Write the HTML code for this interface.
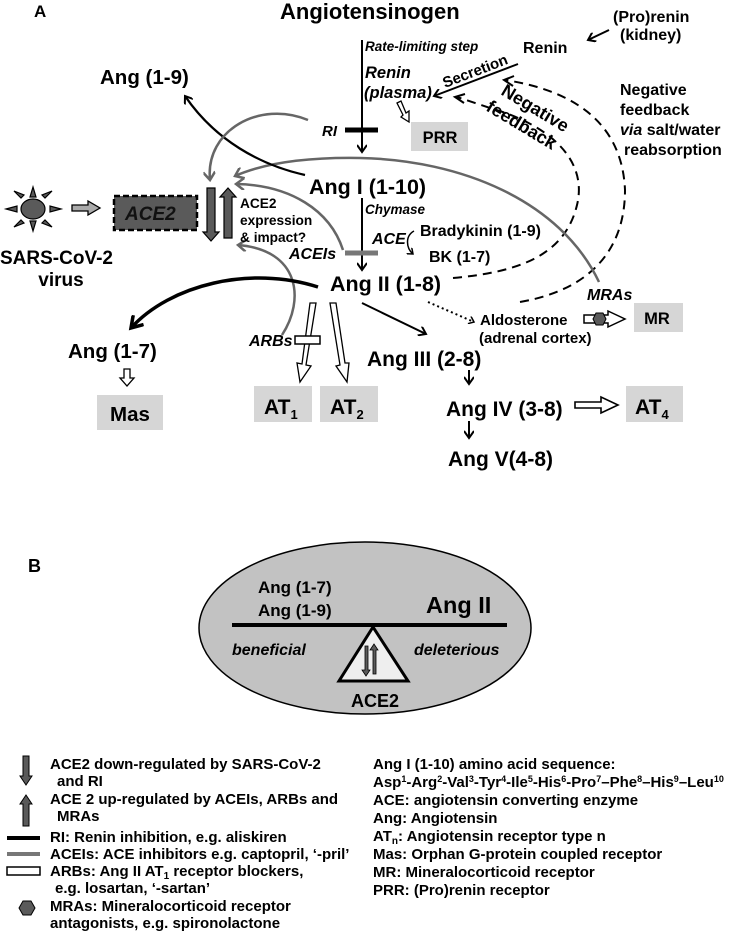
<!DOCTYPE html>
<html><head><meta charset="utf-8"><style>
html,body{margin:0;padding:0;background:#fff}
svg{display:block;font-family:"Liberation Sans",Arial,sans-serif;font-weight:bold}
</style></head><body>
<svg width="732" height="937" viewBox="0 0 732 937" xmlns="http://www.w3.org/2000/svg">
<defs>
<marker id="ah" markerWidth="10" markerHeight="10" refX="8" refY="5" orient="auto" markerUnits="userSpaceOnUse"><path d="M1,0 L8,5 L1,10" fill="none" stroke="#000" stroke-width="2"/></marker>
<marker id="ahg" markerWidth="12" markerHeight="12" refX="9" refY="6" orient="auto" markerUnits="userSpaceOnUse"><path d="M1,0 L9,6 L1,12" fill="none" stroke="#666" stroke-width="2.5"/></marker>
<marker id="ahb" markerWidth="16" markerHeight="16" refX="12" refY="8" orient="auto" markerUnits="userSpaceOnUse"><path d="M1,1 L12,8 L1,15" fill="none" stroke="#000" stroke-width="3.5"/></marker>
<marker id="ahs" markerWidth="8" markerHeight="8" refX="6" refY="4" orient="auto" markerUnits="userSpaceOnUse"><path d="M1,0 L6,4 L1,8" fill="none" stroke="#000" stroke-width="1.5"/></marker>
</defs>

<text x="34" y="17" font-size="17">A</text>
<text x="280" y="19" font-size="22">Angiotensinogen</text>
<text x="613" y="22" font-size="16">(Pro)renin</text>
<text x="620" y="40" font-size="16">(kidney)</text>
<line x1="609" y1="30" x2="588" y2="40" stroke="#000" stroke-width="2" marker-end="url(#ah)"/>
<text x="523" y="53" font-size="16">Renin</text>

<line x1="362" y1="40" x2="362" y2="152" stroke="#000" stroke-width="2" marker-end="url(#ah)"/>
<line x1="345" y1="130" x2="378" y2="130" stroke="#000" stroke-width="5"/>
<text x="322" y="136" font-size="15" font-style="italic">RI</text>
<text x="365" y="51" font-size="13.5" font-style="italic">Rate-limiting step</text>
<text x="365" y="78" font-size="16.5" font-style="italic">Renin</text>
<text x="364" y="98" font-size="16.5" font-style="italic">(plasma)</text>

<line x1="518" y1="64" x2="434" y2="96" stroke="#000" stroke-width="2" marker-end="url(#ah)"/>
<text font-size="15" transform="translate(445,88) rotate(-21)">Secretion</text>

<polygon points="397,103 401,101 406,113 409,111 409,122 401,117 403,115" fill="#fff" stroke="#000" stroke-width="1.3"/>
<rect x="411" y="122" width="57" height="29" fill="#d6d6d6"/>
<text x="440" y="143" font-size="16.5" text-anchor="middle">PRR</text>

<text font-size="18" transform="translate(500,94) rotate(31)">Negative</text>
<text font-size="18" transform="translate(485,110) rotate(31)">feedback</text>

<text x="620" y="95" font-size="16">Negative</text>
<text x="620" y="115" font-size="16">feedback</text>
<text x="620" y="135" font-size="16"><tspan font-style="italic">via</tspan> salt/water</text>
<text x="624" y="155" font-size="16">reabsorption</text>

<path d="M453,278 C520,272 565,255 577,205 C588,160 550,125 490,108 L457,97" fill="none" stroke="#000" stroke-width="2" stroke-dasharray="9,6"/>
<path d="M465,94 L455,97 L464,103" fill="none" stroke="#000" stroke-width="2"/>
<path d="M520,302 C590,290 625,250 625,190 C622,120 570,90 505,80" fill="none" stroke="#000" stroke-width="2" stroke-dasharray="9,6"/>
<path d="M514,76 L504,80 L513,86" fill="none" stroke="#000" stroke-width="2"/>

<path d="M599,282 C560,200 460,160 360,158 C300,157 260,165 235,176" fill="none" stroke="#666" stroke-width="2.5" marker-end="url(#ahg)"/>

<text x="309" y="194" font-size="21.5">Ang I (1-10)</text>
<line x1="362" y1="198" x2="362" y2="270" stroke="#000" stroke-width="2" marker-end="url(#ah)"/>
<text x="365" y="214" font-size="13.5" font-style="italic">Chymase</text>
<line x1="345" y1="253" x2="378" y2="253" stroke="#777" stroke-width="5"/>
<text x="289" y="259" font-size="16" font-style="italic">ACEIs</text>
<text x="372" y="244" font-size="16" font-style="italic">ACE</text>
<path d="M414,231 C405,236 406,248 413,254" fill="none" stroke="#000" stroke-width="1.5" marker-end="url(#ahs)"/>
<text x="420" y="236" font-size="16">Bradykinin (1-9)</text>
<text x="429" y="262" font-size="16">BK (1-7)</text>

<text x="330" y="291" font-size="21.5">Ang II (1-8)</text>

<text x="100" y="84" font-size="20.5">Ang (1-9)</text>
<path d="M305,175 C260,165 215,140 185,96" fill="none" stroke="#000" stroke-width="2.3" marker-end="url(#ah)"/>

<path d="M308,120 C260,100 205,130 210,180" fill="none" stroke="#666" stroke-width="2.5" marker-end="url(#ahg)"/>
<path d="M343,250 C330,210 290,185 236,184" fill="none" stroke="#666" stroke-width="2.5" marker-end="url(#ahg)"/>
<path d="M282,335 C305,300 300,250 238,245" fill="none" stroke="#666" stroke-width="2.5" marker-end="url(#ahg)"/>

<rect x="114" y="196" width="83" height="34" fill="#5a5a5a" stroke="#000" stroke-width="2.5" stroke-dasharray="6,3"/>
<text x="125" y="220" font-size="19" font-style="italic" fill="#111">ACE2</text>
<polygon points="207,188 215,188 215,232 219,232 211,241 203,232 207,232" fill="#5a5a5a" stroke="#000" stroke-width="1.2"/>
<polygon points="224,238 232,238 232,197 236,197 228,188 220,197 224,197" fill="#5a5a5a" stroke="#000" stroke-width="1.2"/>
<text x="240" y="208" font-size="13.7">ACE2</text>
<text x="240" y="225" font-size="13.7">expression</text>
<text x="240" y="242" font-size="13.7">&amp; impact?</text>

<g fill="#5a5a5a" stroke="#000" stroke-width="1.2">
<polygon points="33,187 30,197 36,197"/>
<polygon points="33,231 30,221 36,221"/>
<polygon points="6,209 17,206 17,212"/>
<polygon points="61,209 50,206 50,212"/>
<polygon points="14,191 21,198 24,195"/>
<polygon points="52,191 45,198 42,195"/>
<polygon points="14,227 21,220 24,223"/>
<polygon points="52,227 45,220 42,223"/>
<ellipse cx="33" cy="209" rx="12" ry="10"/>
</g>
<polygon points="72,205 88,205 88,201 100,208 88,215 88,211 72,211" fill="#aaa" stroke="#000" stroke-width="1.3"/>
<text x="0" y="264" font-size="19">SARS-CoV-2</text>
<text x="61" y="286" font-size="19" text-anchor="middle">virus</text>

<path d="M318,287 C250,265 170,285 131,328" fill="none" stroke="#000" stroke-width="3.5" marker-end="url(#ahb)"/>
<text x="68" y="358" font-size="20.5">Ang (1-7)</text>
<polygon points="124,369 130,369 130,378 134,378 127,386 120,378 124,378" fill="#fff" stroke="#000" stroke-width="1.3"/>
<rect x="97" y="395" width="66" height="35" fill="#d6d6d6"/>
<text x="130" y="421" font-size="20.5" text-anchor="middle">Mas</text>

<polygon points="310,303 316,303 306,365 311,366 300,382 297,363 302,364" fill="#fff" stroke="#000" stroke-width="1.3"/>
<polygon points="330,303 336,303 345,363 349,363 347,382 336,366 340,365" fill="#fff" stroke="#000" stroke-width="1.3"/>
<rect x="295" y="336" width="25" height="8" fill="#fff" stroke="#000" stroke-width="1.5"/>
<text x="249" y="346" font-size="16" font-style="italic">ARBs</text>
<rect x="254" y="386" width="58" height="36" fill="#d6d6d6"/>
<text x="264" y="414" font-size="21">AT<tspan font-size="13" dy="5">1</tspan></text>
<rect x="320" y="386" width="58" height="36" fill="#d6d6d6"/>
<text x="330" y="414" font-size="21">AT<tspan font-size="13" dy="5">2</tspan></text>

<line x1="362" y1="303" x2="426" y2="334" stroke="#000" stroke-width="2" marker-end="url(#ah)"/>
<line x1="428" y1="302" x2="474" y2="322" stroke="#000" stroke-width="2" stroke-dasharray="2,3" marker-end="url(#ahs)"/>
<text x="480" y="325" font-size="15">Aldosterone</text>
<text x="479" y="343" font-size="15">(adrenal cortex)</text>
<text x="587" y="300" font-size="16" font-style="italic">MRAs</text>
<polygon points="584,315 608,315 608,311 625,319 608,327 608,323 584,323" fill="#fff" stroke="#000" stroke-width="1.5"/>
<polygon points="596,313 603,313 606,319 603,325 596,325 593,319" fill="#5a5a5a" stroke="#000" stroke-width="1"/>
<rect x="634" y="303" width="49" height="29" fill="#d6d6d6"/>
<text x="657" y="324" font-size="16.5" text-anchor="middle">MR</text>

<text x="367" y="366" font-size="21">Ang III (2-8)</text>
<line x1="469" y1="370" x2="469" y2="384" stroke="#000" stroke-width="2" marker-end="url(#ah)"/>
<text x="446" y="416" font-size="21">Ang IV (3-8)</text>
<polygon points="575,402 601,402 601,397 618,405 601,413 601,408 575,408" fill="#fff" stroke="#000" stroke-width="1.6"/>
<rect x="626" y="386" width="57" height="36" fill="#d6d6d6"/>
<text x="635" y="414" font-size="21">AT<tspan font-size="13" dy="5">4</tspan></text>
<line x1="469" y1="421" x2="469" y2="438" stroke="#000" stroke-width="2" marker-end="url(#ah)"/>
<text x="448" y="466" font-size="21">Ang V(4-8)</text>

<!-- Panel B -->
<text x="28" y="572" font-size="18">B</text>
<ellipse cx="365" cy="628" rx="166" ry="86" fill="#c2c2c2" stroke="#000" stroke-width="1.5"/>
<line x1="232" y1="625" x2="507" y2="625" stroke="#000" stroke-width="4"/>
<text x="258" y="593" font-size="17">Ang (1-7)</text>
<text x="258" y="616" font-size="17">Ang (1-9)</text>
<text x="426" y="613" font-size="23.5">Ang II</text>
<text x="232" y="655" font-size="16" font-style="italic">beneficial</text>
<text x="414" y="655" font-size="16" font-style="italic">deleterious</text>
<polygon points="373,627 339,681 408,681" fill="#eee" stroke="#000" stroke-width="3"/>
<polygon points="365,646 368,646 368,670 370,670 366,676 362,670 365,670" fill="#5a5a5a" stroke="#000" stroke-width="0.8"/>
<polygon points="373,674 376,674 376,650 378,650 374,644 370,650 373,650" fill="#5a5a5a" stroke="#000" stroke-width="0.8"/>
<text x="375" y="707" font-size="18" text-anchor="middle">ACE2</text>

<g font-size="15">
<polygon points="23,756 29,756 29,776 32,776 26,785 20,776 23,776" fill="#5a5a5a" stroke="#000" stroke-width="1"/>
<text x="50" y="769">ACE2 down-regulated by SARS-CoV-2</text>
<text x="57" y="786">and RI</text>
<polygon points="23,826 29,826 29,804 32,804 26,795 20,804 23,804" fill="#5a5a5a" stroke="#000" stroke-width="1"/>
<text x="50" y="804">ACE 2 up-regulated by ACEIs, ARBs and</text>
<text x="57" y="821">MRAs</text>
<line x1="7" y1="838" x2="40" y2="838" stroke="#000" stroke-width="4"/>
<text x="50" y="842">RI: Renin inhibition, e.g. aliskiren</text>
<line x1="7" y1="854" x2="40" y2="854" stroke="#777" stroke-width="4"/>
<text x="50" y="859">ACEIs: ACE inhibitors e.g. captopril, ‘-pril’</text>
<rect x="7" y="867" width="33" height="8" fill="#fff" stroke="#000" stroke-width="1.5"/>
<text x="50" y="876">ARBs: Ang II AT<tspan font-size="10" dy="3">1</tspan><tspan dy="-3"> receptor blockers,</tspan></text>
<text x="55" y="893">e.g. losartan, ‘-sartan’</text>
<polygon points="23,901 31,901 35,908 31,915 23,915 19,908" fill="#5a5a5a" stroke="#000" stroke-width="1"/>
<text x="50" y="911">MRAs: Mineralocorticoid receptor</text>
<text x="50" y="928">antagonists, e.g. spironolactone</text>
</g>
<g font-size="15">
<text x="373" y="769">Ang I (1-10) amino acid sequence:</text>
<text x="373" y="787">Asp<tspan font-size="9" dy="-5">1</tspan><tspan dy="5">-Arg</tspan><tspan font-size="9" dy="-5">2</tspan><tspan dy="5">-Val</tspan><tspan font-size="9" dy="-5">3</tspan><tspan dy="5">-Tyr</tspan><tspan font-size="9" dy="-5">4</tspan><tspan dy="5">-Ile</tspan><tspan font-size="9" dy="-5">5</tspan><tspan dy="5">-His</tspan><tspan font-size="9" dy="-5">6</tspan><tspan dy="5">-Pro</tspan><tspan font-size="9" dy="-5">7</tspan><tspan dy="5">–Phe</tspan><tspan font-size="9" dy="-5">8</tspan><tspan dy="5">–His</tspan><tspan font-size="9" dy="-5">9</tspan><tspan dy="5">–Leu</tspan><tspan font-size="9" dy="-5">10</tspan></text>
<text x="373" y="805">ACE: angiotensin converting enzyme</text>
<text x="373" y="823">Ang: Angiotensin</text>
<text x="373" y="841">AT<tspan font-size="10" dy="3">n</tspan><tspan dy="-3">: Angiotensin receptor type n</tspan></text>
<text x="373" y="859">Mas: Orphan G-protein coupled receptor</text>
<text x="373" y="877">MR: Mineralocorticoid receptor</text>
<text x="373" y="895">PRR: (Pro)renin receptor</text>
</g>
</svg>
</body></html>
